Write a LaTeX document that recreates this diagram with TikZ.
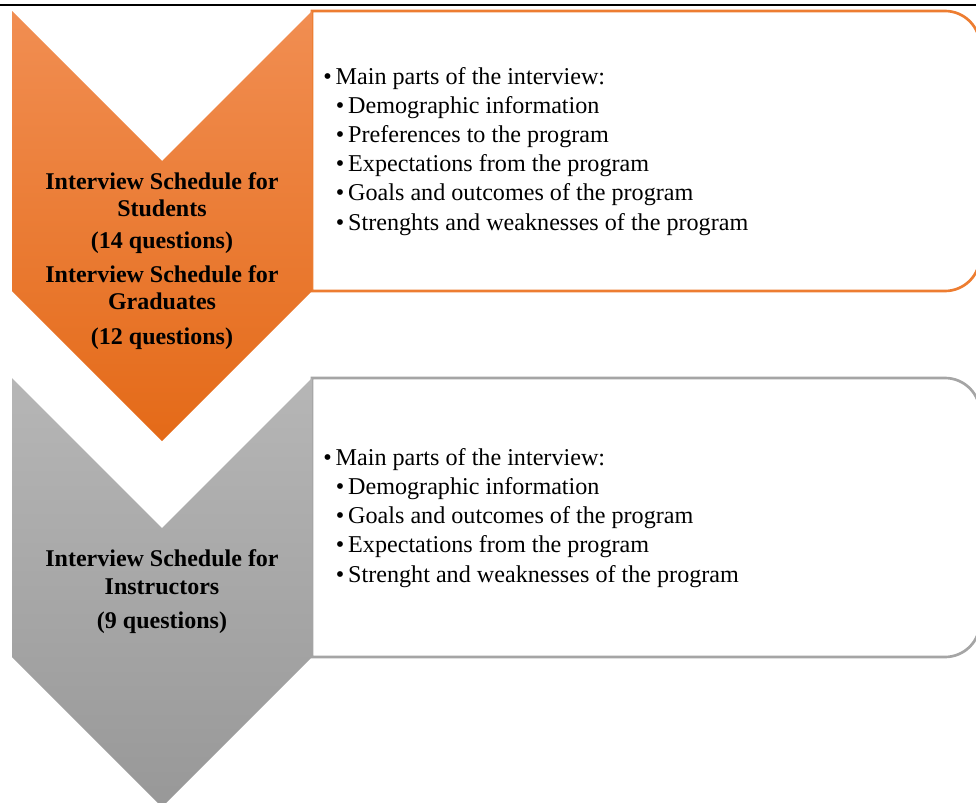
\documentclass[tikz,border=0pt]{standalone}
\usepackage{fontspec}
\setmainfont{Liberation Serif}
\definecolor{orangetop}{RGB}{241,142,82}
\definecolor{orangebot}{RGB}{228,106,24}
\definecolor{orangeline}{RGB}{237,125,49}
\definecolor{graytop}{RGB}{182,182,182}
\definecolor{graybot}{RGB}{152,152,152}
\definecolor{grayline}{RGB}{165,165,165}
\tikzset{
  listbox/.style={line width=2pt, fill=white},
  headtxt/.style={anchor=base, inner sep=0pt, font=\fontsize{18}{20}\selectfont\bfseries},
  itemtxt/.style={anchor=base west, inner sep=0pt, font=\fontsize{18.1}{20}\selectfont}
}
\begin{document}
\begin{tikzpicture}[x=0.75pt, y=0.75pt]
  \useasboundingbox (0,0) rectangle (976,-803);
  \draw[line width=1.6pt] (0,-5) -- (976,-5);
  % boxes
  \draw[listbox, draw=orangeline]
    (312,-291) -- (312,-11) -- (945,-11) arc[start angle=90, end angle=0, radius=35]
    -- (980,-256) arc[start angle=0, end angle=-90, radius=35] -- cycle;
  \draw[listbox, draw=grayline]
    (312,-657) -- (312,-378) -- (945,-378) arc[start angle=90, end angle=0, radius=35]
    -- (980,-622) arc[start angle=0, end angle=-90, radius=35] -- cycle;
  % chevrons
  \shade[top color=orangetop, bottom color=orangebot]
    (12,-11) -- (162,-161) -- (312,-11) -- (312,-291) -- (162,-441) -- (12,-291) -- cycle;
  \shade[top color=graytop, bottom color=graybot]
    (12,-378) -- (162,-528) -- (312,-378) -- (312,-657) -- (162,-807) -- (12,-657) -- cycle;
  % chevron labels
  \node[headtxt] (a1) at (162,-189) {Interview Schedule for};
  \node[headtxt] (a2) at (162,-216) {Students};
  \node[headtxt] (a3) at (162,-248) {(14 questions)};
  \node[headtxt] (a4) at (162,-282) {Interview Schedule for};
  \node[headtxt] (a5) at (162,-309) {Graduates};
  \node[headtxt] (a6) at (162,-344) {(12 questions)};
  \node[headtxt] (b1) at (162,-566) {Interview Schedule for};
  \node[headtxt] (b2) at (162,-594) {Instructors};
  \node[headtxt] (b3) at (162,-628) {(9 questions)};
  % lists
  \node[itemtxt] (s0) at (323,-84.5) {\textbullet\hspace{3pt}Main parts of the interview:};
  \foreach \t [count=\i] in {Demographic information, Preferences to the program,
      Expectations from the program, Goals and outcomes of the program,
      Strenghts and weaknesses of the program}
    \node[itemtxt] (s\i) at (335.5,{-84.5-29.1*\i}) {\textbullet\hspace{3pt}\t};
  \node[itemtxt] (g0) at (323,-465) {\textbullet\hspace{3pt}Main parts of the interview:};
  \foreach \t [count=\i] in {Demographic information, Goals and outcomes of the program,
      Expectations from the program, Strenght and weaknesses of the program}
    \node[itemtxt] (g\i) at (335.5,{-465-29.3*\i}) {\textbullet\hspace{3pt}\t};
\end{tikzpicture}
\end{document}
